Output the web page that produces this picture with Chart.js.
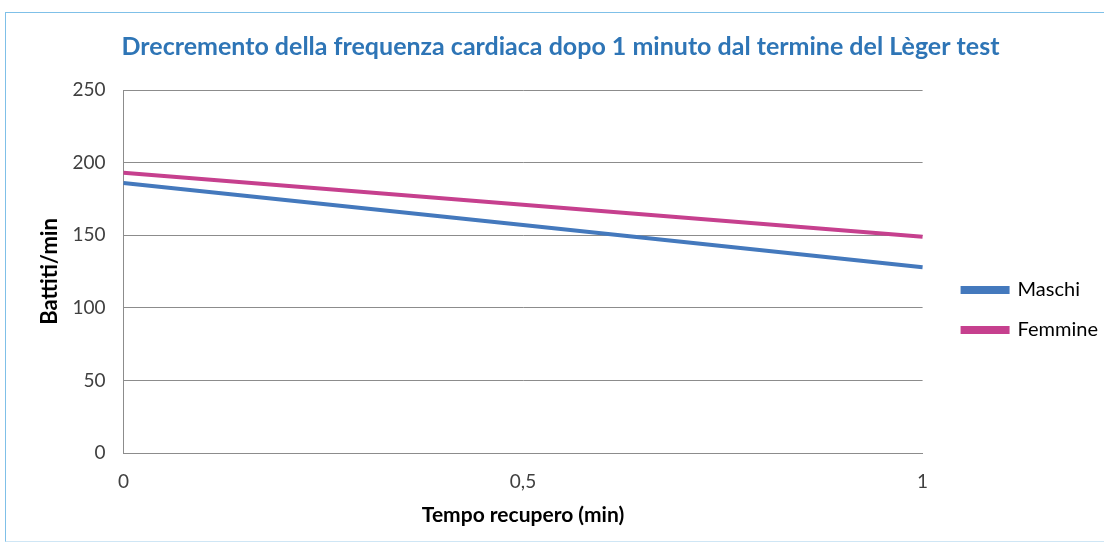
<!DOCTYPE html>
<html>
<head>
<meta charset="utf-8">
<script src="https://cdn.jsdelivr.net/npm/chart.js@4"></script>
<style>
  html, body { margin: 0; padding: 0; background: #fff; }
  #frame {
    position: absolute; left: 5px; top: 12px; width: 1110px; height: 528px;
    border-top: 1px solid #7fc0e8; border-left: 1px solid #7fc0e8;
    border-bottom: 1px solid #cfe6f5;
  }
  #wrap { position: absolute; left: 0; top: 0; width: 1104px; height: 546px; }
</style>
</head>
<body>
<div id="frame"></div>
<div id="wrap"><canvas id="hrChart"></canvas></div>
<script>
// Tempo recupero (min)
const categories = ['0', '0,5', '1'];
// Battiti/min
const maschi = [186, 157, 128];
const femmine = [193, 171, 149];
const yTicks = [0, 50, 100, 150, 200, 250];

const FONT = "Lato, 'Open Sans', 'DejaVu Sans', sans-serif";

// nudge the legend block, the reference sits it a bit lower and further right
const legendShift = {
    id: 'legendShift',
    afterLayout(chart) {
        const lg = chart.legend;
        if (!lg) return;
        lg.top += 30; lg.bottom += 30;
        lg.left += 20; lg.right += 20;
    }
};

document.addEventListener('DOMContentLoaded', function () {
    const ctx = document.getElementById('hrChart').getContext('2d');

    new Chart(ctx, {
        type: 'line',
        data: {
            labels: categories,
            datasets: [
                {
                    label: 'Maschi',
                    data: maschi,
                    borderColor: '#4479bd',
                    backgroundColor: '#4479bd',
                    borderWidth: 4,
                    pointRadius: 0,
                    tension: 0
                },
                {
                    label: 'Femmine',
                    data: femmine,
                    borderColor: '#c6408e',
                    backgroundColor: '#c6408e',
                    borderWidth: 4,
                    pointRadius: 0,
                    tension: 0
                }
            ]
        },
        options: {
            responsive: true,
            maintainAspectRatio: false,
            animation: false,
            layout: { padding: { left: 33, right: 16, top: 32, bottom: 18 } },
            scales: {
                x: {
                    offset: false,
                    grid: { display: false, drawTicks: false },
                    border: { display: true, color: '#8c8c8c', width: 1 },
                    ticks: { color: '#404040', font: { family: FONT, size: 19 }, padding: 17, maxRotation: 0 },
                    title: { display: true, text: 'Tempo recupero (min)', color: '#000', font: { family: FONT, size: 21, weight: 'bold' }, padding: { top: -7, bottom: 0 } }
                },
                y: {
                    min: 0,
                    max: 250,
                    afterBuildTicks: function (axis) {
                        axis.ticks = yTicks.map(v => ({ value: v }));
                    },
                    grid: { color: '#8c8c8c', drawTicks: false, lineWidth: 1 },
                    border: { display: true, color: '#8c8c8c', width: 1 },
                    ticks: { color: '#404040', font: { family: FONT, size: 19 }, padding: 18 },
                    title: { display: true, text: 'Battiti/min', color: '#000', font: { family: FONT, size: 22, weight: 'bold' }, padding: { top: 4, bottom: -9 } }
                }
            },
            plugins: {
                title: {
                    display: true,
                    text: 'Drecremento della frequenza cardiaca dopo 1 minuto dal termine del Lèger test',
                    color: '#2e75b6',
                    font: { family: FONT, size: 25, weight: 'bold' },
                    padding: { top: 0, bottom: 28 }
                },
                legend: {
                    position: 'right',
                    labels: {
                        boxWidth: 45,
                        boxHeight: 4,
                        padding: 20,
                        color: '#000',
                        font: { family: FONT, size: 20 }
                    }
                },
                tooltip: { enabled: false }
            }
        },
        plugins: [legendShift]
    });
});
</script>
</body>
</html>
